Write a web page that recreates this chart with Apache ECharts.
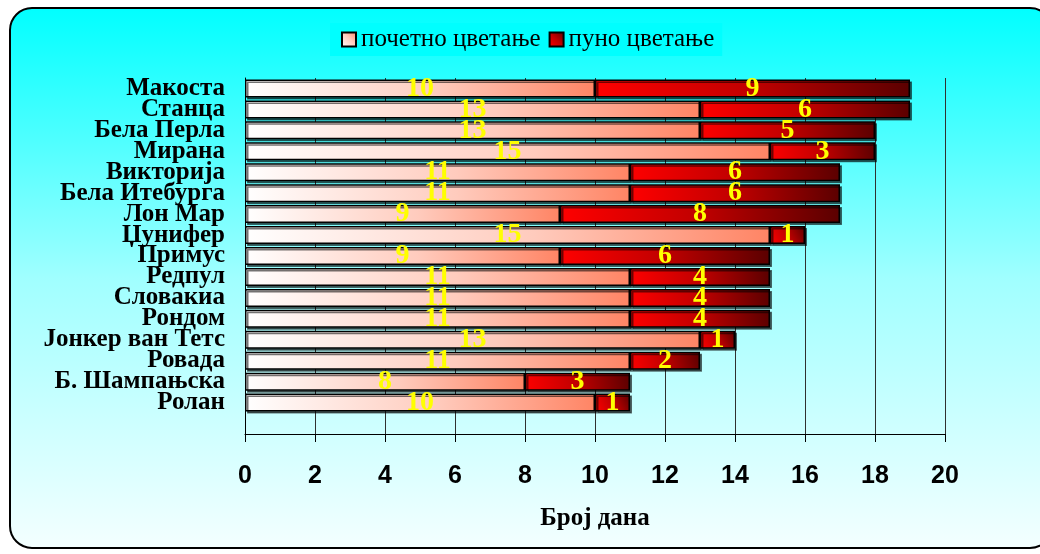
<!DOCTYPE html>
<html>
<head>
<meta charset="utf-8">
<script src="https://cdn.jsdelivr.net/npm/echarts@6/dist/echarts.min.js"></script>
<style>
  html, body { margin: 0; padding: 0; background: #ffffff; }
  #chart { width: 1040px; height: 554px; }
</style>
</head>
<body>
<div id="chart"></div>
<script>
// Cultivars and the number of days of each flowering stage
const cultivars = ['Макоста', 'Станца', 'Бела Перла', 'Мирана', 'Викторија', 'Бела Итебурга',
  'Лон Мар', 'Џунифер', 'Примус', 'Редпул', 'Словакиа', 'Рондом', 'Јонкер ван Тетс',
  'Ровада', 'Б. Шампањска', 'Ролан'];
const earlyBloom = [10, 13, 13, 15, 11, 11, 9, 15, 9, 11, 11, 11, 13, 11, 8, 10];
const fullBloom = [9, 6, 5, 3, 6, 6, 8, 1, 6, 4, 4, 4, 1, 2, 3, 1];
const seriesNames = ['почетно цветање', 'пуно цветање'];
const axisTitle = 'Број дана';

const serif = '"Liberation Serif", "Times New Roman", serif';
const sans = '"Liberation Sans", Arial, sans-serif';

const chart = echarts.init(document.getElementById('chart'), null, { renderer: 'canvas' });

const lightFill = new echarts.graphic.LinearGradient(0, 1, 1, 0, [
  { offset: 0, color: '#ffffff' },
  { offset: 0.55, color: '#ffcbbd' },
  { offset: 1, color: '#ff8464' }
]);
const darkFill = new echarts.graphic.LinearGradient(0, 1, 1, 0, [
  { offset: 0, color: '#ff0000' },
  { offset: 0.5, color: '#c00000' },
  { offset: 1, color: '#5a0000' }
]);

const barStyle = (fill) => ({
  color: fill,
  borderColor: '#000000',
  borderWidth: 1.5,
  shadowColor: 'rgba(0,0,0,0.55)',
  shadowOffsetX: 2,
  shadowOffsetY: 2,
  shadowBlur: 0
});

const valueLabel = {
  show: true,
  position: 'inside',
  color: '#ffff00',
  fontFamily: serif,
  fontWeight: 'bold',
  fontSize: 28
};

chart.setOption({
  animation: false,
  graphic: [{
    type: 'rect',
    z: -10,
    shape: { x: 10, y: 8, width: 1042, height: 540, r: 22 },
    style: {
      fill: new echarts.graphic.LinearGradient(0, 0, 0, 1, [
        { offset: 0, color: '#00ffff' },
        { offset: 0.5, color: '#a0ffff' },
        { offset: 1, color: '#f4ffff' }
      ]),
      stroke: '#000000',
      lineWidth: 2
    }
  }],
  legend: {
    left: 330,
    top: 23,
    padding: [4, 8, 4, 11],
    backgroundColor: '#00ffff',
    itemWidth: 14,
    itemHeight: 14,
    itemGap: 8,
    icon: 'rect',
    textStyle: { fontFamily: serif, fontSize: 25, color: '#000000' },
    data: seriesNames
  },
  grid: { left: 245, right: 95, top: 78, bottom: 120 },
  xAxis: {
    type: 'value',
    min: 0,
    max: 20,
    interval: 2,
    name: axisTitle,
    nameLocation: 'middle',
    nameGap: 72,
    nameTextStyle: { fontFamily: serif, fontWeight: 'bold', fontSize: 25, color: '#000000' },
    axisLine: { show: true, lineStyle: { color: '#000000', width: 1 } },
    axisTick: { show: true, length: 8, lineStyle: { color: '#000000' } },
    axisLabel: { margin: 30, fontFamily: sans, fontWeight: 'bold', fontSize: 25, color: '#000000' },
    splitLine: { show: true, lineStyle: { color: '#303030', width: 1 } }
  },
  yAxis: {
    type: 'category',
    inverse: true,
    data: cultivars,
    max: cultivars.length,
    axisLine: { show: true, onZero: false, lineStyle: { color: '#000000', width: 1 } },
    axisTick: { show: false },
    axisLabel: {
      interval: 0, margin: 20, fontFamily: serif, fontWeight: 'bold', fontSize: 25,
      lineHeight: 20, color: '#000000'
    },
    splitLine: { show: false }
  },
  series: [
    {
      name: seriesNames[0],
      type: 'bar',
      stack: 'bloom',
      barCategoryGap: '14%',
      data: earlyBloom,
      itemStyle: barStyle(lightFill),
      label: valueLabel
    },
    {
      name: seriesNames[1],
      type: 'bar',
      stack: 'bloom',
      barCategoryGap: '14%',
      data: fullBloom,
      itemStyle: barStyle(darkFill),
      label: valueLabel
    }
  ]
});
</script>
</body>
</html>
